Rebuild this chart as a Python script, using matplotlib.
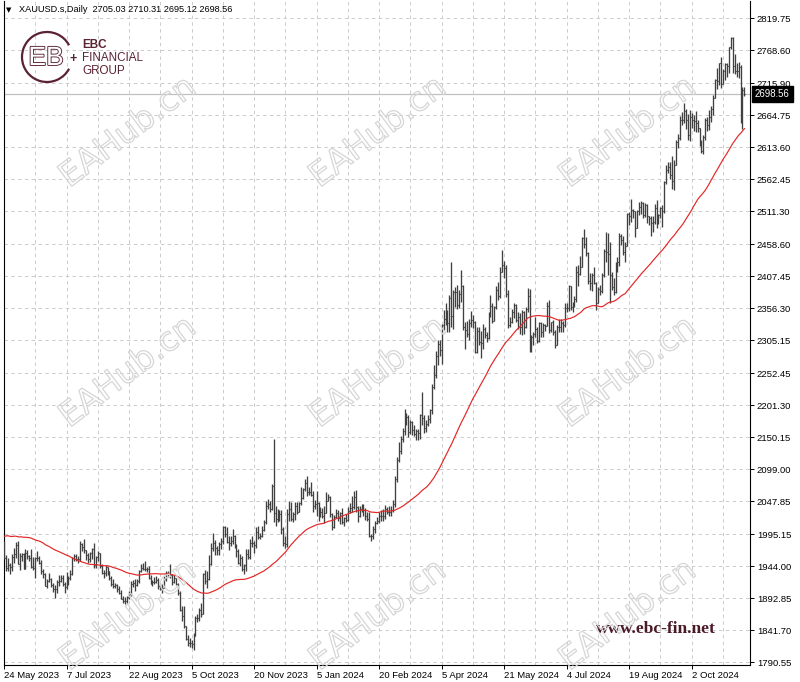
import matplotlib
matplotlib.use("Agg")
import matplotlib.pyplot as plt
import matplotlib.transforms as mtransforms
import matplotlib.patheffects as pe
from matplotlib.patches import Arc
import numpy as np
import pandas as pd

# ---------------- DATA ----------------
symbol_title = "XAUUSD.s,Daily"
header_ohlc = "2705.03 2710.31 2695.12 2698.56"
first_open = 1975.0
closed_days = ["2023-12-25", "2024-01-01", "2024-03-29"]

# (close, high, low) per trading day
m2023_05 = [(1957,1985,1955),(1941,1962,1936),(1946,1957,1937),(1943,1950,1932),(1959,1963,1936),(1963,1974,1950)]
m2023_06 = [(1978,1983,1957),(1948,1984,1947),(1961,1965,1938),(1963,1966,1953),(1940,1966,1939),(1965,1971,1940),(1961,1970,1955),(1957,1962,1952),(1943,1971,1941),(1942,1959,1938),(1958,1959,1925),(1958,1968,1952),(1950,1960,1948),(1936,1954,1931),(1932,1940,1925),(1913,1934,1912),(1921,1923,1910),(1923,1934,1919),(1914,1925,1911),(1907,1917,1903),(1908,1914,1893),(1919,1922,1902)]
m2023_07 = [(1921,1930,1913),(1926,1930,1919),(1915,1930,1912),(1911,1919,1902),(1925,1935,1908),(1925,1929,1914),(1932,1938,1922),(1957,1959,1930),(1961,1963,1952),(1955,1964,1953),(1955,1960,1949),(1979,1984,1953),(1975,1982,1969),(1970,1987,1965),(1962,1970,1954),(1955,1965,1950),(1965,1967,1951),(1971,1974,1956),(1946,1982,1942),(1959,1961,1942),(1965,1968,1953)]
m2023_08 = [(1944,1966,1942),(1934,1948,1932),(1934,1938,1925),(1943,1946,1928),(1936,1943,1930),(1925,1937,1922),(1915,1929,1913),(1913,1923,1909),(1914,1918,1910),(1907,1916,1903),(1902,1912,1900),(1892,1906,1891),(1889,1896,1885),(1889,1895,1884),(1895,1897,1886),(1899,1904,1891),(1915,1920,1896),(1917,1922,1911),(1914,1924,1904),(1920,1924,1912),(1937,1938,1918),(1942,1948,1935),(1940,1949,1938)]
m2023_09 = [(1940,1953,1936),(1939,1943,1935),(1926,1944,1924),(1916,1930,1915),(1919,1922,1913),(1919,1927,1915),(1922,1928,1918),(1913,1925,1908),(1908,1917,1906),(1910,1915,1901),(1924,1928,1910),(1934,1937,1921),(1931,1937,1927),(1930,1947,1925),(1919,1932,1914),(1925,1930,1917),(1916,1926,1914),(1901,1917,1898),(1874,1905,1872),(1864,1880,1857),(1849,1880,1846)]
m2023_10 = [(1828,1849,1826),(1822,1834,1816),(1821,1829,1815),(1820,1826,1813),(1833,1837,1810),(1861,1865,1835),(1861,1867,1855),(1874,1877,1856),(1868,1885,1863),(1932,1933,1868),(1920,1938,1915),(1923,1936,1909),(1947,1962,1922),(1974,1981,1946),(1981,1997,1969),(1973,1986,1962),(1970,1977,1962),(1980,1983,1962),(1985,1989,1971),(2006,2009,1979),(1996,2009,1990),(1983,2007,1981)]
m2023_11 = [(1982,1992,1970),(1985,1993,1976),(1992,2003,1979),(1977,1994,1974),(1969,1979,1959),(1950,1972,1947),(1958,1964,1944),(1940,1960,1937),(1946,1947,1932),(1963,1971,1937),(1959,1971,1955),(1981,1988,1956),(1981,1993,1975),(1978,1985,1966),(1998,2007,1973),(1990,2008,1988),(1992,1997,1987),(2002,2008,1990),(2014,2018,2001),(2041,2048,2011),(2044,2052,2035),(2036,2048,2031)]
m2023_12 = [(2072,2075,2034),(2029,2148,2015),(2019,2041,2009),(2025,2036,2015),(2028,2034,2017),(2004,2034,1995),(1982,2006,1976),(1979,1992,1973),(2027,2036,1975),(2035,2048,2017),(2019,2047,2016),(2027,2030,2015),(2040,2047,2018),(2031,2047,2028),(2045,2047,2030),(2053,2071,2042),(2067,2069,2052),(2077,2084,2065),(2062,2088,2057),(2063,2070,2058)]
m2024_01 = [(2058,2078,2057),(2041,2065,2031),(2043,2050,2035),(2045,2064,2024),(2027,2047,2016),(2030,2038,2022),(2024,2037,2021),(2029,2041,2013),(2049,2062,2029),(2055,2060,2048),(2028,2056,2022),(2006,2029,2002),(2023,2026,2005),(2029,2035,2021),(2021,2034,2016),(2029,2030,2011),(2014,2037,2011),(2021,2023,2009),(2018,2028,2014),(2032,2039,2016),(2037,2045,2029),(2039,2056,2030)]
m2024_02 = [(2054,2065,2036),(2039,2066,2031),(2025,2040,2014),(2035,2041,2022),(2035,2043,2030),(2034,2043,2025),(2024,2037,2018),(2020,2031,2017),(1992,2030,1990),(1992,1996,1984),(2004,2008,1988),(2013,2016,1997),(2017,2022,2012),(2025,2031,2013),(2025,2034,2017),(2024,2035,2017),(2036,2042,2020),(2031,2038,2027),(2030,2041,2025),(2034,2040,2024),(2044,2050,2030)]
m2024_03 = [(2083,2088,2038),(2114,2119,2078),(2128,2142,2111),(2148,2152,2124),(2160,2165,2142),(2179,2195,2154),(2182,2189,2170),(2158,2185,2150),(2174,2178,2156),(2162,2176,2154),(2156,2170,2152),(2160,2164,2146),(2157,2163,2146),(2186,2188,2148),(2181,2223,2170),(2165,2185,2157),(2172,2177,2158),(2179,2185,2168),(2194,2196,2173),(2230,2236,2187)]
m2024_04 = [(2250,2266,2228),(2280,2288,2245),(2300,2305,2266),(2290,2305,2280),(2329,2331,2268),(2339,2354,2321),(2352,2365,2329),(2333,2354,2319),(2373,2378,2319),(2344,2431,2326),(2383,2386,2324),(2383,2391,2359),(2361,2393,2355),(2379,2386,2356),(2392,2417,2366),(2327,2394,2322),(2322,2335,2291),(2316,2336,2310),(2332,2339,2305),(2337,2352,2327),(2335,2346,2325),(2286,2336,2285)]
m2024_05 = [(2320,2326,2285),(2303,2326,2297),(2301,2320,2277),(2323,2331,2292),(2314,2327,2309),(2309,2319,2303),(2346,2351,2307),(2360,2378,2343),(2336,2364,2333),(2358,2360,2340),(2386,2392,2355),(2376,2398,2370),(2415,2422,2373),(2425,2450,2416),(2420,2432,2405),(2379,2425,2374),(2329,2385,2325),(2334,2343,2326),(2350,2355,2332),(2361,2364,2341),(2338,2363,2334),(2343,2351,2324),(2326,2349,2315)]
m2024_06 = [(2350,2354,2314),(2327,2352,2315),(2355,2359,2325),(2376,2388,2351),(2294,2387,2287),(2311,2314,2286),(2316,2318,2298),(2323,2342,2311),(2304,2327,2301),(2333,2335,2302),(2319,2334,2310),(2329,2333,2310),(2328,2331,2320),(2360,2366,2328),(2322,2369,2317),(2334,2335,2318),(2319,2337,2314),(2298,2321,2293),(2327,2330,2299),(2326,2339,2319)]
m2024_07 = [(2332,2339,2319),(2330,2336,2318),(2356,2365,2327),(2356,2364,2351),(2392,2393,2352),(2359,2392,2353),(2364,2366,2351),(2371,2376,2358),(2415,2424,2366),(2411,2425,2392),(2422,2440,2409),(2469,2470,2422),(2459,2483,2453),(2445,2471,2440),(2400,2446,2395),(2396,2412,2385),(2409,2412,2384),(2397,2423,2395),(2364,2398,2353),(2387,2391,2365),(2384,2394,2378),(2410,2412,2380),(2448,2451,2407)]
m2024_08 = [(2446,2478,2431),(2443,2477,2410),(2410,2462,2364),(2390,2415,2385),(2382,2405,2378),(2427,2431,2381),(2431,2439,2415),(2472,2476,2424),(2465,2475,2458),(2447,2472,2442),(2456,2463,2431),(2507,2509,2456),(2504,2510,2490),(2513,2531,2495),(2512,2515,2500),(2484,2509,2471),(2512,2514,2485),(2518,2526,2505),(2524,2528,2507),(2505,2526,2500),(2521,2525,2502),(2503,2523,2493)]
m2024_09 = [(2500,2504,2489),(2493,2503,2472),(2494,2503,2479),(2516,2523,2491),(2497,2529,2485),(2506,2507,2491),(2516,2518,2500),(2512,2522,2486),(2558,2560,2509),(2578,2586,2555),(2582,2590,2573),(2570,2590,2563),(2559,2600,2547),(2586,2594,2546),(2622,2625,2586),(2629,2635,2613),(2657,2664,2625),(2657,2670,2649),(2672,2685,2652),(2658,2674,2643),(2634,2667,2625)]
m2024_10 = [(2662,2673,2624),(2657,2669,2644),(2656,2666,2639),(2653,2671,2638),(2644,2658,2638),(2622,2645,2615),(2608,2625,2604),(2630,2633,2603),(2657,2661,2626),(2649,2662,2640),(2662,2673,2641),(2674,2680,2654),(2692,2697,2665),(2721,2723,2692),(2720,2740,2707),(2748,2749,2713),(2715,2758,2708),(2736,2739,2715),(2747,2749,2721),(2743,2749,2726),(2774,2774,2733),(2788,2790,2770),(2744,2790,2732)]
m2024_11 = [(2736,2763,2731),(2736,2749,2726),(2742,2750,2724),(2659,2745,2652),(2705.03,2710,2643),(2698.56,2710.31,2695.12)]

# closes of the 50 sessions before the first visible bar (seed for the 50-period MA)
ma_seed_closes = [1903,1918,1919,1989,1979,1940,1970,1993,1978,1956,1973,1964,1980,1969,
                  1984,2020,2021,2008,1990,2003,2015,2040,2004,1995,2005,1995,2004,1982,
                  1989,1998,1989,1989,1990,1983,2016,2039,2050,2017,2022,2034,2030,2015,
                  2010,2017,1989,1982,1958,1978,1971,1975]
ma_period = 50

price_ticks = [2819.75, 2768.60, 2715.90, 2664.75, 2613.60, 2562.45, 2511.30, 2458.60,
               2407.45, 2356.30, 2305.15, 2252.45, 2201.30, 2150.15, 2099.00, 2047.85,
               1995.15, 1944.00, 1892.85, 1841.70, 1790.55]
date_labels = ["24 May 2023", "7 Jul 2023", "22 Aug 2023", "5 Oct 2023", "20 Nov 2023",
               "5 Jan 2024", "20 Feb 2024", "5 Apr 2024", "21 May 2024", "4 Jul 2024",
               "19 Aug 2024", "2 Oct 2024"]

# ---------------- PREP ----------------
months = [m2023_05, m2023_06, m2023_07, m2023_08, m2023_09, m2023_10, m2023_11, m2023_12,
          m2024_01, m2024_02, m2024_03, m2024_04, m2024_05, m2024_06, m2024_07, m2024_08,
          m2024_09, m2024_10, m2024_11]
rows = [r for m in months for r in m]
closes = np.array([r[0] for r in rows], float)
highs = np.array([r[1] for r in rows], float)
lows = np.array([r[2] for r in rows], float)
opens = np.concatenate([[first_open], closes[:-1]])  # gold opens at prior close
opens[-1] = 2705.03
highs = np.maximum(highs, np.maximum(opens, closes))
lows = np.minimum(lows, np.minimum(opens, closes))

dates = pd.bdate_range("2023-05-24", "2024-11-08")
dates = dates[~dates.isin(pd.to_datetime(closed_days))]
n = min(len(dates), len(closes))
closes, highs, lows, opens = closes[:n], highs[:n], lows[:n], opens[:n]
x = np.arange(n)

ma = pd.Series(list(ma_seed_closes) + list(closes)).rolling(ma_period).mean().to_numpy()[-n:]

label_pos = []
for lbl in date_labels:
    ts = pd.to_datetime(lbl, format="%d %b %Y")
    label_pos.append(int(dates.get_indexer([ts])[0]))

# ---------------- FIGURE ----------------
W, H = 800, 682
fig = plt.figure(figsize=(W / 100, H / 100), dpi=100)
fig.patch.set_facecolor("white")
axl, axr, axt, axb = 3.5, 750.0, 1.0, 665.0
ax = fig.add_axes([axl / W, 1 - axb / H, (axr - axl) / W, (axb - axt) / H])

# pixel mapping taken from the tick positions of the reference
y_top_tick, y_bot_tick = 18.3, 662.3
ppx = (price_ticks[0] - price_ticks[-1]) / (y_bot_tick - y_top_tick)
ax.set_ylim(price_ticks[-1] - (axb - y_bot_tick) * ppx, price_ticks[0] + (y_top_tick - axt) * ppx)
bar_px = 1.9537
ax.set_xlim((axl - 4.0) / bar_px, (axr - 4.0) / bar_px)

grid_kw = dict(color="#cbcbcb", lw=0.7, ls=(0, (3.5, 3.5)), zorder=0)
for p in price_ticks:
    ax.axhline(p, **grid_kw)
for gx in range(16, n + 2, 16):
    ax.axvline(gx, **grid_kw)

ax.axhline(closes[-1], color="#c0c0c0", lw=0.9, zorder=1)

bar_color = "#404040"
ax.vlines(x, lows, highs, color=bar_color, lw=0.95, zorder=3)
ax.hlines(opens, x - 0.5, x, color=bar_color, lw=0.8, zorder=3)
ax.hlines(closes, x, x + 0.5, color=bar_color, lw=0.8, zorder=3)

ax.plot(x, ma, color="#e32626", lw=0.85, zorder=4)

fam = ["Liberation Sans", "DejaVu Sans"]
ax.set_yticks(price_ticks)
ax.set_yticklabels([f"{p:.2f}" for p in price_ticks], family=fam)
ax.yaxis.tick_right()
ax.tick_params(axis="y", direction="out", length=3, width=0.7, pad=2, labelsize=6.8, colors="black")
ax.set_xticks(label_pos)
ax.set_xticklabels(date_labels, family=fam)
ax.tick_params(axis="x", direction="out", length=3, width=0.7, pad=1.5, labelsize=6.8, colors="black")
for t in ax.get_xticklabels():
    t.set_ha("left")
for s in ["left", "right", "bottom"]:
    ax.spines[s].set_color("black")
    ax.spines[s].set_linewidth(0.8)
ax.spines["top"].set_visible(False)

trans = mtransforms.blended_transform_factory(ax.transAxes, ax.transData)
ax.text(1.0 + 5 / (axr - axl), closes[-1], f"{closes[-1]:.2f}", transform=trans, ha="left",
        va="center", fontsize=6.9, color="white", family=fam,
        bbox=dict(boxstyle="square,pad=0.3", fc="black", ec="black"), zorder=10, clip_on=False)

# ---------------- OVERLAY (header, logo, watermarks) ----------------
ov = fig.add_axes([0, 0, 1, 1], zorder=5)
ov.set_xlim(0, W)
ov.set_ylim(H, 0)
ov.axis("off")
ov.patch.set_alpha(0)

ov.text(6, 10, "\u25bc", fontsize=5, family=["DejaVu Sans"], va="center", ha="left", color="black")
ov.text(19, 10, symbol_title + "  " + header_ohlc, fontsize=6.6, family=fam, va="center", ha="left", color="black")

maroon = "#5a2232"
ov.add_patch(Arc((47, 57), 50, 50, theta1=28, theta2=332, color=maroon, lw=1.6))
ov.text(46, 58, "EB", fontsize=19, family=fam, color="white", ha="center", va="center",
        path_effects=[pe.withStroke(linewidth=1.3, foreground=maroon)])
ov.text(73, 59, "+", fontsize=9, family=fam, color=maroon, ha="center", va="center", fontweight="bold")
ov.text(82, 45.5, "EBC", fontsize=8.4, family=fam, color=maroon, ha="left", va="center", fontweight="bold")
ov.text(82, 58, "FINANCIAL", fontsize=8.4, family=fam, color=maroon, ha="left", va="center")
ov.text(82, 70.5, "GROUP", fontsize=8.4, family=fam, color=maroon, ha="left", va="center")

ov.text(656, 629, "www.ebc-fin.net", fontsize=12.5, family=["Liberation Serif", "DejaVu Serif"],
        fontweight="bold", color="#4a1a28", ha="center", va="center")

wm_x = [128, 378, 628]
wm_y = [132, 372, 615]
for wy in wm_y:
    for wx in wm_x:
        ov.text(wx, wy, "EAHub.cn", fontsize=24, family=["DejaVu Sans"], rotation=37,
                ha="center", va="center", color=(1, 1, 1, 0),
                path_effects=[pe.Stroke(linewidth=0.9, foreground="#d6d6d6"), pe.Normal()])

fig.savefig("out.png", dpi=100, facecolor="white")
